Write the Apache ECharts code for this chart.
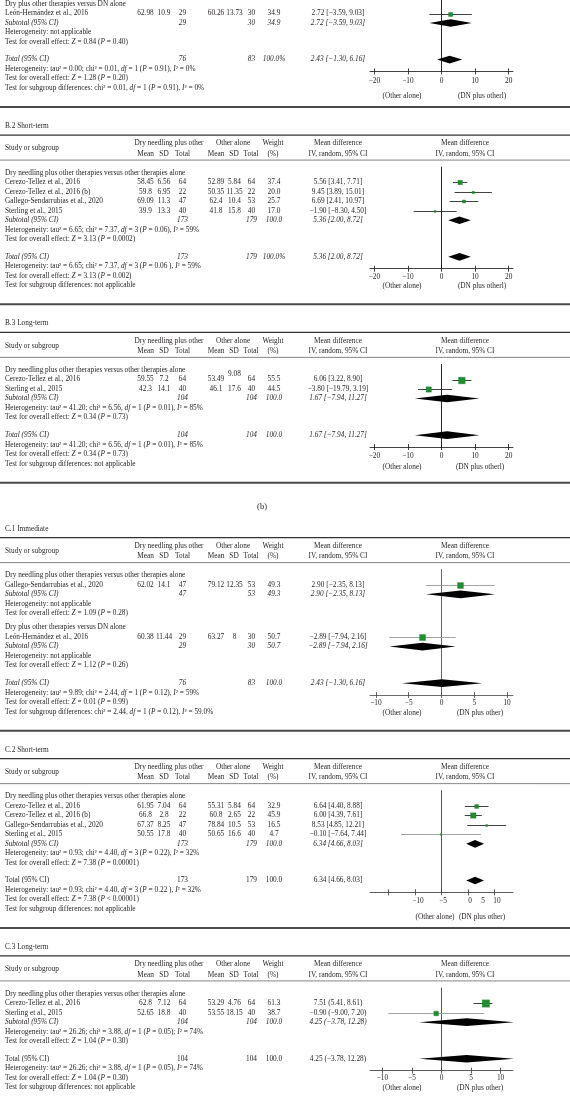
<!DOCTYPE html>
<html><head><meta charset="utf-8">
<script src="https://cdn.jsdelivr.net/npm/echarts@6/dist/echarts.min.js"></script>
<style>html,body{margin:0;padding:0;background:#fff}#c{width:570px;height:1109px}</style>
</head><body><div id="c"></div>
<script>
// ================= DATA =================
// Top fragment (end of panel above B.2)
const aGroupLabels = ['Dry plus other therapies versus DN alone'];
const aStudy = ['León-Hernández et al., 2016'];
const aGroupOf = [0];
const aDnMean = [62.98], aDnSD = [10.9], aDnN = [29];
const aOtMean = [60.26], aOtSD = [13.73], aOtN = [30];
const aWeight = [34.9];
const aMD = [2.72], aLo = [-3.59], aHi = [9.03];
const aCI = ['2.72 [−3.59, 9.03]'];
const aSubCols = [['29', '30', '34.9', '2.72 [−3.59, 9.03]']];
const aSubDiamond = [[2.72, -3.59, 9.03]];
const aSubNotes = [['Heterogeneity: not applicable', 'Test for overall effect: {i|Z} = 0.84 ({i|P} = 0.40)']];
const aTotalCols = ['76', '83', '100.0%', '2.43 [−1.30, 6.16]'];
const aTotalDiamond = [2.43, -1.30, 6.16];
const aNotes = ['Heterogeneity: tau² = 0.00; chi² = 0.01, {i|df} = 1 ({i|P} = 0.91), {i|I}² = 0%',
  'Test for overall effect: {i|Z} = 1.28 ({i|P} = 0.20)',
  'Test for subgroup differences: chi² = 0.01, {i|df} = 1 ({i|P} = 0.91), {i|I}² = 0%'];
const aTicks = [-20, -10, 0, 10, 20];
const aAxisNames = ['(Other alone)', '(DN plus otherl)'];

// B.2 Short-term
const b2GroupLabels = ['Dry needling plus other therapies versus other therapies alone'];
const b2Study = ['Cerezo-Tellez et al., 2016', 'Cerezo-Tellez et al., 2016 (b)', 'Gallego-Sendarrubias et al., 2020', 'Sterling et al., 2015'];
const b2GroupOf = [0, 0, 0, 0];
const b2DnMean = [58.45, 59.8, 69.09, 39.9], b2DnSD = [6.56, 6.95, 11.3, 13.3], b2DnN = [64, 22, 47, 40];
const b2OtMean = [52.89, 50.35, 62.4, 41.8], b2OtSD = [5.84, 11.35, 10.4, 15.8], b2OtN = [64, 22, 53, 40];
const b2Weight = [37.4, 20.0, 25.7, 17.0];
const b2MD = [5.56, 9.45, 6.69, -1.90], b2Lo = [3.41, 3.89, 2.41, -8.30], b2Hi = [7.71, 15.01, 10.97, 4.50];
const b2CI = ['5.56 [3.41, 7.71]', '9.45 [3.89, 15.01]', '6.69 [2.41, 10.97]', '−1.90 [−8.30, 4.50]'];
const b2SubCols = [['173', '179', '100.0', '5.36 [2.00, 8.72]']];
const b2SubDiamond = [[5.36, 2.00, 8.72]];
const b2SubNotes = [['Heterogeneity: tau² = 6.65; chi² = 7.37, {i|df} = 3 ({i|P} = 0.06), {i|I}² = 59%',
  'Test for overall effect: {i|Z} = 3.13 ({i|P} = 0.0002)']];
const b2TotalCols = ['173', '179', '100.0%', '5.36 [2.00, 8.72]'];
const b2TotalDiamond = [5.36, 2.00, 8.72];
const b2Notes = ['Heterogeneity: tau² = 6.65; chi² = 7.37, {i|df} = 3 ({i|P} = 0.06 ), {i|I}² = 59%',
  'Test for overall effect: {i|Z} = 3.13 ({i|P} = 0.002)',
  'Test for subgroup differences: not applicable'];
const b2Ticks = [-20, -10, 0, 10, 20];
const b2AxisNames = ['(Other alone)', '(DN plus otherl)'];

// B.3 Long-term
const b3GroupLabels = ['Dry needling plus other therapies versus other therapies alone'];
const b3Study = ['Cerezo-Tellez et al., 2016', 'Sterling et al., 2015'];
const b3GroupOf = [0, 0];
const b3DnMean = [59.55, 42.3], b3DnSD = [7.2, 14.1], b3DnN = [64, 40];
const b3OtMean = [53.49, 46.1], b3OtSD = [9.08, 17.6], b3OtN = [64, 40];
const b3Weight = [55.5, 44.5];
const b3MD = [6.06, -3.80], b3Lo = [3.22, -7.0], b3Hi = [8.90, 3.19];
const b3CI = ['6.06 [3.22, 8.90]', '−3.80 [−19.79, 3.19]'];
const b3SubCols = [['104', '104', '100.0', '1.67 [−7.94, 11.27]']];
const b3SubDiamond = [[1.67, -7.94, 11.27]];
const b3SubNotes = [['Heterogeneity: tau² = 41.20; chi² = 6.56, {i|df} = 1 ({i|P} = 0.01), {i|I}² = 85%',
  'Test for overall effect: {i|Z} = 0.34 ({i|P} = 0.73)']];
const b3TotalCols = ['104', '104', '100.0', '1.67 [−7.94, 11.27]'];
const b3TotalDiamond = [1.67, -7.94, 11.27];
const b3Notes = ['Heterogeneity: tau² = 41.20; chi² = 6.56, {i|df} = 1 ({i|P} = 0.01), {i|I}² = 85%',
  'Test for overall effect: {i|Z} = 0.34 ({i|P} = 0.73)',
  'Test for subgroup differences: not applicable'];
const b3Ticks = [-20, -10, 0, 10, 20];
const b3AxisNames = ['(Other alone)', '(DN plus otherl)'];

// C.1 Immediate
const c1GroupLabels = ['Dry needling plus other therapies versus other therapies alone', 'Dry plus other therapies versus DN alone'];
const c1Study = ['Gallego-Sendarrubias et al., 2020', 'León-Hernández et al., 2016'];
const c1GroupOf = [0, 1];
const c1DnMean = [62.02, 60.38], c1DnSD = [14.1, 11.44], c1DnN = [47, 29];
const c1OtMean = [79.12, 63.27], c1OtSD = [12.35, 8], c1OtN = [53, 30];
const c1Weight = [49.3, 50.7];
const c1MD = [2.90, -2.89], c1Lo = [-2.35, -7.94], c1Hi = [8.13, 2.16];
const c1CI = ['2.90 [−2.35, 8.13]', '−2.89 [−7.94, 2.16]'];
const c1SubCols = [['47', '53', '49.3', '2.90 [−2.35, 8.13]'], ['29', '30', '50.7', '−2.89 [−7.94, 2.16]']];
const c1SubDiamond = [[2.90, -2.35, 8.13], [-2.89, -7.94, 2.16]];
const c1SubNotes = [['Heterogeneity: not applicable', 'Test for overall effect: {i|Z} = 1.09 ({i|P} = 0.28)'],
  ['Heterogeneity: not applicable', 'Test for overall effect: {i|Z} = 1.12 ({i|P} = 0.26)']];
const c1TotalCols = ['76', '83', '100.0', '2.43 [−1.30, 6.16]'];
const c1TotalDiamond = [0.1, -6.0, 6.2];
const c1Notes = ['Heterogeneity: tau² = 9.89; chi² = 2.44, {i|df} = 1 ({i|P} = 0.12), {i|I}² = 59%',
  'Test for overall effect: {i|Z} = 0.01 ({i|P} = 0.99)',
  'Test for subgroup differences: chi² = 2.44, {i|df} = 1 ({i|P} = 0.12), {i|I}² = 59.0%'];
const c1Ticks = [-10, -5, 0, 5, 10];
const c1AxisNames = ['(Other alone)', '(DN plus other)'];

// C.2 Short-term
const c2GroupLabels = ['Dry needling plus other therapies versus other therapies alone'];
const c2Study = ['Cerezo-Tellez et al., 2016', 'Cerezo-Tellez et al., 2016 (b)', 'Gallego-Sendarrubias et al., 2020', 'Sterling et al., 2015'];
const c2GroupOf = [0, 0, 0, 0];
const c2DnMean = [61.95, 66.8, 67.37, 50.55], c2DnSD = [7.04, 2.8, 8.25, 17.8], c2DnN = [64, 22, 47, 40];
const c2OtMean = [55.31, 60.8, 78.84, 50.65], c2OtSD = [5.84, 2.65, 10.5, 16.6], c2OtN = [64, 22, 53, 40];
const c2Weight = [32.9, 45.9, 16.5, 4.7];
const c2MD = [6.64, 6.00, 8.53, -0.10], c2Lo = [4.40, 4.39, 4.85, -7.64], c2Hi = [8.88, 7.61, 12.21, 7.44];
const c2CI = ['6.64 [4.40, 8.88]', '6.00 [4.39, 7.61]', '8.53 [4.85, 12.21]', '−0.10 [−7.64, 7.44]'];
const c2SubCols = [['173', '179', '100.0', '6.34 [4.66, 8.03]']];
const c2SubDiamond = [[6.34, 4.66, 8.03]];
const c2SubNotes = [['Heterogeneity: tau² = 0.93; chi² = 4.40, {i|df} = 3 ({i|P} = 0.22), {i|I}² = 32%',
  'Test for overall effect: {i|Z} = 7.38 ({i|P} = 0.00001)']];
const c2TotalCols = ['173', '179', '100.0', '6.34 [4.66, 8.03]'];
const c2TotalDiamond = [6.34, 4.66, 8.03];
const c2Notes = ['Heterogeneity: tau² = 0.93; chi² = 4.40, {i|df} = 3 ({i|P} = 0.22 ), {i|I}² = 32%',
  'Test for overall effect: {i|Z} = 7.38 ({i|P} < 0.00001)',
  'Test for subgroup differences: not applicable'];
const c2Ticks = [-10, -5, 0, 5, 10];
const c2AxisNames = ['(Other alone)', '(DN plus other)'];

// C.3 Long-term
const c3GroupLabels = ['Dry needling plus other therapies versus other therapies alone'];
const c3Study = ['Cerezo-Tellez et al., 2016', 'Sterling et al., 2015'];
const c3GroupOf = [0, 0];
const c3DnMean = [62.8, 52.65], c3DnSD = [7.12, 18.8], c3DnN = [64, 40];
const c3OtMean = [53.29, 53.55], c3OtSD = [4.76, 18.15], c3OtN = [64, 40];
const c3Weight = [61.3, 38.7];
const c3MD = [7.51, -0.90], c3Lo = [5.41, -9.00], c3Hi = [8.61, 7.20];
const c3CI = ['7.51 (5.41, 8.61)', '−0.90 (−9.00, 7.20)'];
const c3SubCols = [['104', '104', '100.0', '4.25 (−3.78, 12.28)']];
const c3SubDiamond = [[4.25, -3.78, 12.28]];
const c3SubNotes = [['Heterogeneity: tau² = 26.26; chi² = 3.88, {i|df} = 1 ({i|P} = 0.05); {i|I}² = 74%',
  'Test for overall effect: {i|Z} = 1.04 ({i|P} = 0.30)']];
const c3TotalCols = ['104', '104', '100.0', '4.25 (−3.78, 12.28)'];
const c3TotalDiamond = [4.25, -3.78, 12.28];
const c3Notes = ['Heterogeneity: tau² = 26.26; chi² = 3.88, {i|df} = 1 ({i|P} = 0.05), {i|I}² = 74%',
  'Test for overall effect: {i|Z} = 1.04 ({i|P} = 0.30)',
  'Test for subgroup differences: not applicable'];
const c3Ticks = [-10, -5, 0, 5, 10];
const c3AxisNames = ['(Other alone)', '(DN plus other)'];

const headerTop = ['Dry needling plus other', 'Other alone', 'Weight', 'Mean difference', 'Mean difference'];
const headerSub = ['Mean', 'SD', 'Total', 'Mean', 'SD', 'Total', '(%)', 'IV, random, 95% CI', 'IV, random, 95% CI'];

// ================= STYLE / LAYOUT =================
const FONT = '"Liberation Serif","Times New Roman",serif';
const FS = 7.3;
const INK = '#231f20';
const GREEN = '#1e8f2e';
const S = 9.5;          // row step (px)
const PLOT_L = 370, PLOT_W = 143;
const COL = { m1: 145.5, s1: 164, n1: 182.5, m2: 216, s2: 234.5, n2: 251.5, w: 274, ci: 338 };
const HEAD_X = [169, 233, 273, 338, 465];
const SUB_X = [145.5, 164, 182.5, 216, 234, 251, 273, 338, 465];
const NO_SHIFT = [0, 0, 0, 0, 0];

function P(o) { return o; }
const panels = [
  P({ title: null, groups: aGroupLabels, study: aStudy, groupOf: aGroupOf, dnMean: aDnMean, dnSD: aDnSD, dnN: aDnN,
    otMean: aOtMean, otSD: aOtSD, otN: aOtN, weight: aWeight, md: aMD, lo: aLo, hi: aHi, ci: aCI,
    subCols: aSubCols, subDia: aSubDiamond, subNotes: aSubNotes, totCols: aTotalCols, totDia: aTotalDiamond,
    notes: aNotes, ticks: aTicks, names: aAxisNames,
    xr: [-21.3, 21.3], italicTotal: true, lineCol: '#111', zeroCol: '#111', grey: [], tickShift: NO_SHIFT,
    labelMargin: 6.5, nameR: 3.85, nameX: [402, 482], gapAbove: 0 }),
  P({ title: 'B.2 Short-term', groups: b2GroupLabels, study: b2Study, groupOf: b2GroupOf, dnMean: b2DnMean, dnSD: b2DnSD, dnN: b2DnN,
    otMean: b2OtMean, otSD: b2OtSD, otN: b2OtN, weight: b2Weight, md: b2MD, lo: b2Lo, hi: b2Hi, ci: b2CI,
    subCols: b2SubCols, subDia: b2SubDiamond, subNotes: b2SubNotes, totCols: b2TotalCols, totDia: b2TotalDiamond,
    notes: b2Notes, ticks: b2Ticks, names: b2AxisNames,
    xr: [-21.3, 21.3], italicTotal: true, lineCol: '#111', zeroCol: '#111', grey: [], tickShift: NO_SHIFT,
    labelMargin: 5, nameR: 3.1, nameX: [402, 482], gapAbove: 19 }),
  P({ title: 'B.3 Long-term', groups: b3GroupLabels, study: b3Study, groupOf: b3GroupOf, dnMean: b3DnMean, dnSD: b3DnSD, dnN: b3DnN,
    otMean: b3OtMean, otSD: b3OtSD, otN: b3OtN, weight: b3Weight, md: b3MD, lo: b3Lo, hi: b3Hi, ci: b3CI,
    subCols: b3SubCols, subDia: b3SubDiamond, subNotes: b3SubNotes, totCols: b3TotalCols, totDia: b3TotalDiamond,
    notes: b3Notes, ticks: b3Ticks, names: b3AxisNames, raisedSD2: [0],
    xr: [-21.3, 21.3], italicTotal: true, lineCol: '#111', zeroCol: '#111', grey: [], tickShift: NO_SHIFT,
    labelMargin: 5.5, nameR: 3.4, nameX: [402, 480], gapAbove: 19 }),
  P({ title: 'C.1 Immediate', groups: c1GroupLabels, study: c1Study, groupOf: c1GroupOf, dnMean: c1DnMean, dnSD: c1DnSD, dnN: c1DnN,
    otMean: c1OtMean, otSD: c1OtSD, otN: c1OtN, weight: c1Weight, md: c1MD, lo: c1Lo, hi: c1Hi, ci: c1CI,
    subCols: c1SubCols, subDia: c1SubDiamond, subNotes: c1SubNotes, totCols: c1TotalCols, totDia: c1TotalDiamond,
    notes: c1Notes, ticks: c1Ticks, names: c1AxisNames,
    xr: [-10.9, 10.9], italicTotal: true, lineCol: '#444', zeroCol: '#555', grey: [0, 1], tickShift: NO_SHIFT,
    labelMargin: 5, nameR: 3.1, nameX: [402, 480], gapAbove: 46 }),
  P({ title: 'C.2 Short-term', groups: c2GroupLabels, study: c2Study, groupOf: c2GroupOf, dnMean: c2DnMean, dnSD: c2DnSD, dnN: c2DnN,
    otMean: c2OtMean, otSD: c2OtSD, otN: c2OtN, weight: c2Weight, md: c2MD, lo: c2Lo, hi: c2Hi, ci: c2CI,
    subCols: c2SubCols, subDia: c2SubDiamond, subNotes: c2SubNotes, totCols: c2TotalCols, totDia: c2TotalDiamond,
    notes: c2Notes, ticks: c2Ticks, names: c2AxisNames,
    xr: [-13.5, 13.5], italicTotal: false, lineCol: '#333', zeroCol: '#444', grey: [3], tickShift: [29.5, 28, 28.5, 15, 2.5],
    labelMargin: 5, nameR: 3.85, nameX: [435, 482], gapAbove: 19 }),
  P({ title: 'C.3 Long-term', groups: c3GroupLabels, study: c3Study, groupOf: c3GroupOf, dnMean: c3DnMean, dnSD: c3DnSD, dnN: c3DnN,
    otMean: c3OtMean, otSD: c3OtSD, otN: c3OtN, weight: c3Weight, md: c3MD, lo: c3Lo, hi: c3Hi, ci: c3CI,
    subCols: c3SubCols, subDia: c3SubDiamond, subNotes: c3SubNotes, totCols: c3TotalCols, totDia: c3TotalDiamond,
    notes: c3Notes, ticks: c3Ticks, names: c3AxisNames,
    xr: [-12.1, 12.1], italicTotal: false, lineCol: '#333', zeroCol: '#444', grey: [1], tickShift: NO_SHIFT,
    labelMargin: 4.5, nameR: 3.1, nameX: [402, 480], gapAbove: 19, noBottomRule: true })
];

function layoutRows(p) {
  const items = []; let r = 0;
  p.groups.forEach((lab, g) => {
    if (g > 0) r += 1.5;
    items.push({ r, kind: 'label', text: lab });
    p.study.forEach((nm, i) => { if (p.groupOf[i] === g) { r += 1; items.push({ r, kind: 'study', i }); } });
    r += 1; items.push({ r, kind: 'sub', g });
    p.subNotes[g].forEach(t => { r += 1; items.push({ r, kind: 'text', text: t }); });
  });
  r += 1.85; items.push({ r, kind: 'total' }); const totalR = r;
  p.notes.forEach(t => { r += 1; items.push({ r, kind: 'text', text: t }); });
  return { items, totalR, lastR: r };
}

let prevRule = 0;
panels.forEach((p, k) => {
  p.L = layoutRows(p);
  if (k === 0) { p.labelY = 4; p.yMin = -4 / S; }
  else { p.T = prevRule + p.gapAbove; p.labelY = p.T + 46.7; p.yMin = -0.6; }
  p.axisR = p.L.totalR + 1.25;
  p.ruleY = p.labelY + (p.L.lastR + 2.0) * S;
  prevRule = p.ruleY;
});

const minus = v => String(v).replace('-', '−');

const option = { animation: false, backgroundColor: '#fff', grid: [], xAxis: [], yAxis: [], series: [] };
panels.forEach((p, k) => {
  const rich = {};
  p.ticks.forEach((t, j) => { rich['s' + j] = { fontFamily: FONT, fontSize: FS, color: INK, padding: [0, 0, 0, p.tickShift[j] * 2] }; });
  option.grid.push({ left: PLOT_L, width: PLOT_W, top: p.labelY + p.yMin * S, height: (p.axisR - p.yMin) * S });
  option.xAxis.push({ gridIndex: k, type: 'value', min: p.xr[0], max: p.xr[1], position: 'bottom',
    axisLine: { onZero: false, lineStyle: { color: p.lineCol, width: 0.8 } },
    axisTick: { customValues: p.ticks, length: 3, lineStyle: { color: p.lineCol, width: 0.8 } },
    axisLabel: { customValues: p.ticks, fontFamily: FONT, fontSize: FS, color: INK, margin: p.labelMargin,
      formatter: v => '{s' + p.ticks.indexOf(v) + '|' + minus(v) + '}', rich },
    splitLine: { show: false } });
  option.xAxis.push({ gridIndex: k, type: 'value', min: p.xr[0], max: p.xr[1], position: 'bottom',
    axisLine: { show: false, onZero: false },
    axisTick: { inside: true, customValues: p.ticks, length: 3, lineStyle: { color: p.lineCol, width: 0.8 } },
    axisLabel: { show: false }, splitLine: { show: false } });
  option.yAxis.push({ gridIndex: k, type: 'value', inverse: true, min: p.yMin, max: p.axisR,
    axisLine: { show: true, onZero: true, lineStyle: { color: p.zeroCol, width: 0.9 } },
    axisTick: { show: false }, axisLabel: { show: false }, splitLine: { show: false } });

  const studyData = p.L.items.filter(it => it.kind === 'study')
    .map(it => [p.md[it.i], it.r, p.lo[it.i], p.hi[it.i], p.weight[it.i], p.grey.includes(it.i) ? 1 : 0]);
  option.series.push({ type: 'custom', xAxisIndex: 2 * k, yAxisIndex: k, clip: false, silent: true,
    encode: { x: 0, y: 1 }, data: studyData,
    renderItem(params, api) {
      const row = api.value(1);
      const c = api.coord([api.value(0), row]), a = api.coord([api.value(2), row]), b = api.coord([api.value(3), row]);
      const sz = Math.max(1.5, api.value(4) * 0.12);
      const y = Math.round(c[1]) + 0.5;
      return { type: 'group', children: [
        { type: 'line', shape: { x1: a[0], y1: y, x2: b[0], y2: y }, style: { stroke: api.value(5) ? '#8a8a8a' : '#111', lineWidth: 0.8 } },
        { type: 'rect', shape: { x: c[0] - sz / 2, y: y - sz / 2, width: sz, height: sz }, style: { fill: GREEN, stroke: '#17702a', lineWidth: 0.3 } }
      ] };
    } });

  const diaData = [];
  p.L.items.forEach(it => {
    if (it.kind === 'sub') diaData.push([p.subDia[it.g][0], it.r, p.subDia[it.g][1], p.subDia[it.g][2]]);
    if (it.kind === 'total') diaData.push([p.totDia[0], it.r, p.totDia[1], p.totDia[2]]);
  });
  option.series.push({ type: 'custom', xAxisIndex: 2 * k, yAxisIndex: k, clip: false, silent: true,
    encode: { x: 0, y: 1 }, data: diaData,
    renderItem(params, api) {
      const row = api.value(1);
      const c = api.coord([api.value(0), row]), a = api.coord([api.value(2), row]), b = api.coord([api.value(3), row]);
      const h = 3.8;
      return { type: 'polygon', shape: { points: [[a[0], c[1]], [c[0], c[1] - h], [b[0], c[1]], [c[0], c[1] + h]] },
        style: { fill: '#000' } };
    } });
});

const chart = echarts.init(document.getElementById('c'), null, { renderer: 'canvas', width: 570, height: 1109 });
chart.setOption(option);

// ================= TEXT (positioned on each panel's row scale) =================
const gfx = [];
function tx(x, y, text, opt) {
  opt = opt || {};
  const size = opt.size || FS;
  gfx.push({ type: 'text', x, y, silent: true, z: 10,
    style: { text, fill: INK, fontFamily: FONT, fontSize: size, fontStyle: opt.italic ? 'italic' : 'normal',
      textAlign: opt.align || 'left', textVerticalAlign: 'middle', align: opt.align || 'left', verticalAlign: 'middle',
      rich: { i: { fontStyle: 'italic', fontFamily: FONT, fontSize: size, fill: INK } } } });
}
function hline(y, w, col) {
  gfx.push({ type: 'line', silent: true, z: 10, shape: { x1: 0, y1: y, x2: 570, y2: y }, style: { stroke: col, lineWidth: w } });
}

panels.forEach((p, k) => {
  const Y = r => chart.convertToPixel({ yAxisIndex: k }, r);
  const y0 = Y(0);
  if (p.title) {
    const T = y0 - 46.7;
    tx(5, T, p.title);
    hline(T + 9, 1.2, '#333');
    headerTop.forEach((h, j) => tx(HEAD_X[j], T + 17.3, h, { align: 'center' }));
    tx(5, T + 22.5, 'Study or subgroup');
    headerSub.forEach((h, j) => tx(SUB_X[j], T + 27.9, h, { align: 'center' }));
    hline(T + 34, 0.8, '#666');
  }
  p.L.items.forEach(it => {
    const y = Y(it.r);
    if (it.kind === 'label' || it.kind === 'text') tx(5, y, it.text);
    else if (it.kind === 'study') {
      const i = it.i;
      tx(5, y, p.study[i]);
      tx(COL.m1, y, String(p.dnMean[i]), { align: 'center' });
      tx(COL.s1, y, String(p.dnSD[i]), { align: 'center' });
      tx(COL.n1, y, String(p.dnN[i]), { align: 'center' });
      tx(COL.m2, y, String(p.otMean[i]), { align: 'center' });
      const raised = p.raisedSD2 && p.raisedSD2.includes(i);
      tx(COL.s2, raised ? y - 5 : y, String(p.otSD[i]), { align: 'center' });
      tx(COL.n2, y, String(p.otN[i]), { align: 'center' });
      tx(COL.w, y, p.weight[i].toFixed(1), { align: 'center' });
      tx(COL.ci, y, p.ci[i], { align: 'center' });
    } else if (it.kind === 'sub' || it.kind === 'total') {
      const cols = it.kind === 'sub' ? p.subCols[it.g] : p.totCols;
      const it2 = it.kind === 'sub' ? true : p.italicTotal;
      tx(5, y, it.kind === 'sub' ? 'Subtotal (95% CI)' : 'Total (95% CI)', { italic: it2 });
      tx(COL.n1, y, cols[0], { align: 'center', italic: it2 });
      tx(COL.n2, y, cols[1], { align: 'center', italic: it2 });
      tx(COL.w, y, cols[2], { align: 'center', italic: it2 });
      tx(COL.ci, y, cols[3], { align: 'center', italic: it2 });
    }
  });
  const ny = Y(p.L.totalR + p.nameR);
  tx(p.nameX[0], ny, p.names[0], { align: 'center' });
  tx(p.nameX[1], ny, p.names[1], { align: 'center' });
  if (!p.noBottomRule) hline(p.ruleY, 2, '#4a4a4a');
});
tx(262, panels[2].ruleY + 24, '(b)', { align: 'center', size: 8.5 });

chart.setOption({ graphic: gfx });
</script></body></html>
